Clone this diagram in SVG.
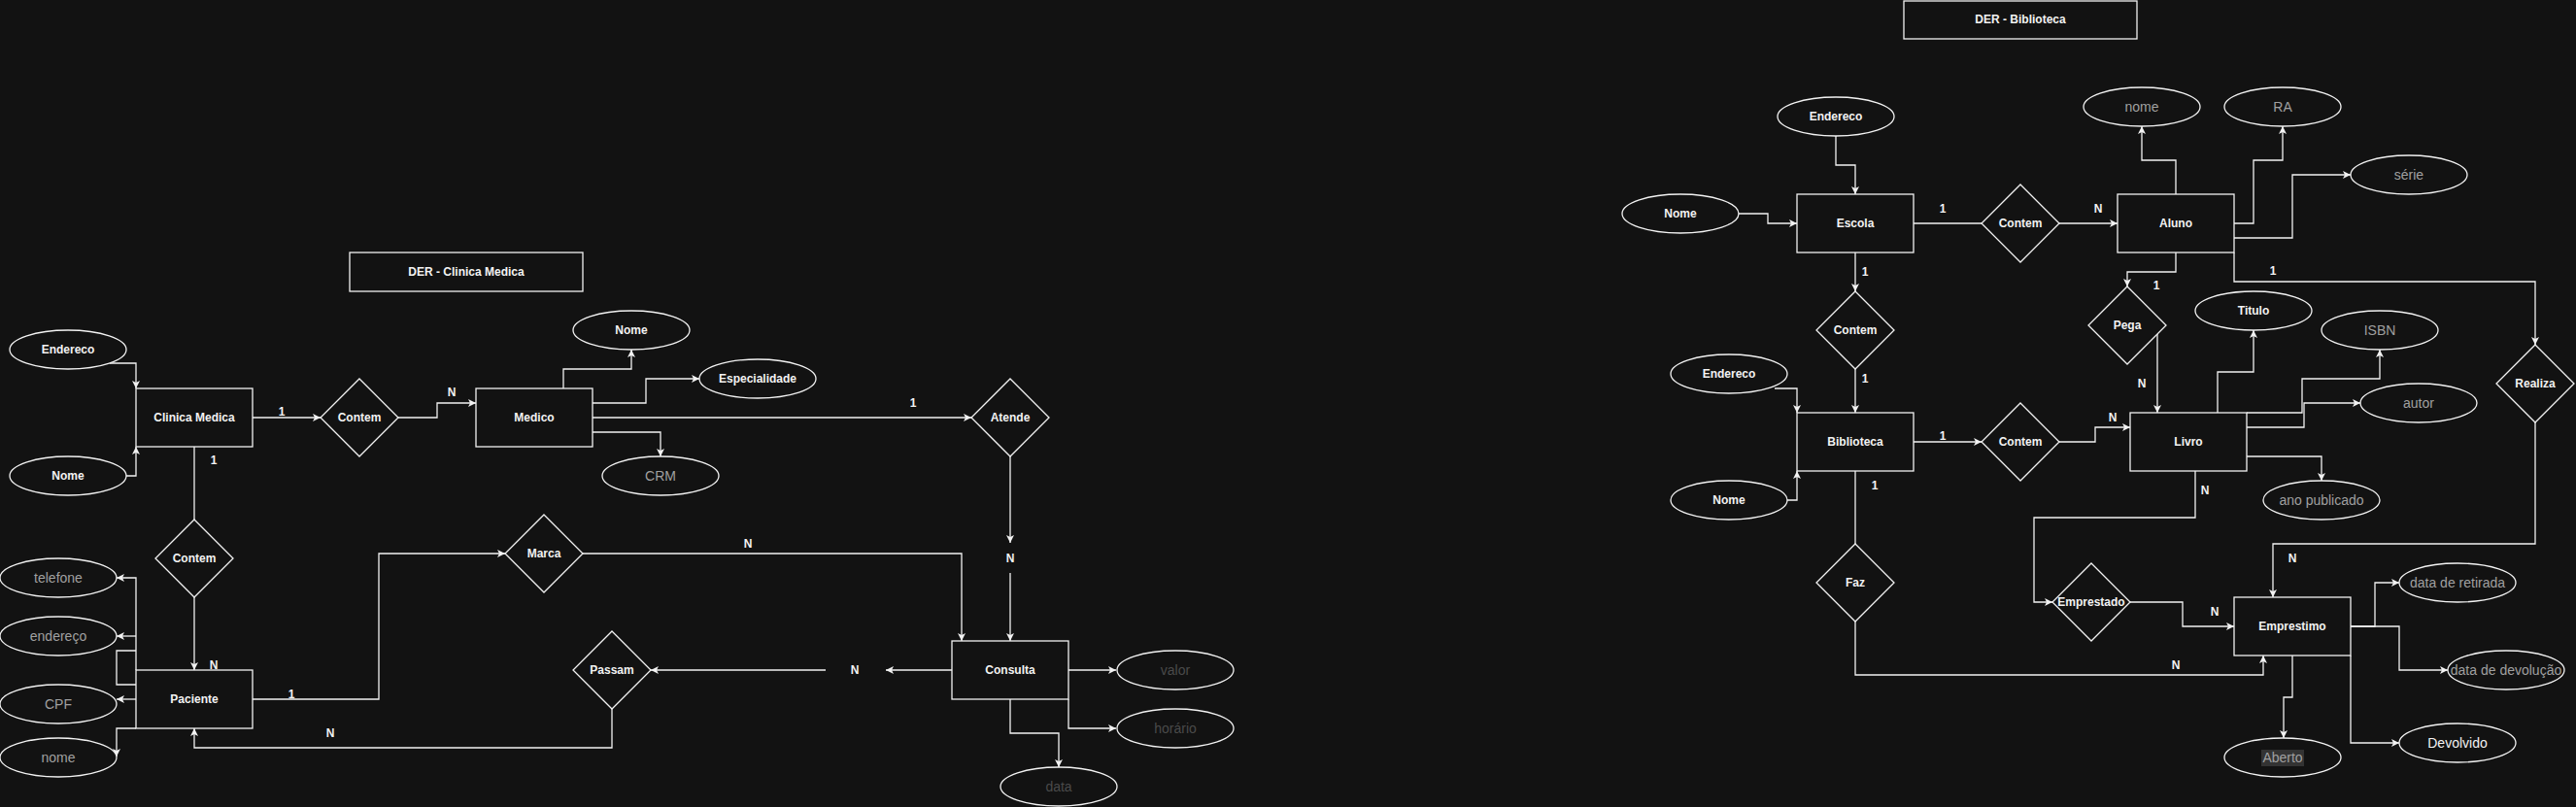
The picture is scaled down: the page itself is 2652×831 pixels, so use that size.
<svg xmlns="http://www.w3.org/2000/svg" width="2652" height="831" viewBox="0 0 2652 831">
<style>
text{font-family:"Liberation Sans",Arial,Helvetica,sans-serif;text-anchor:middle;dominant-baseline:central}
.b{font-size:12px;font-weight:bold;fill:#f2f2f2}
.g{font-size:14px;fill:#a0a0a0}
.d{font-size:14px;fill:#4a4a4a}
.w{font-size:14px;fill:#f2f2f2}
.lbl{font-size:12px;font-weight:bold;fill:#f2f2f2}
.s{fill:#121212;stroke:#f2f2f2;stroke-width:1.3}
.e{fill:none;stroke:#f2f2f2;stroke-width:1.3}
.a{marker-end:url(#arr)}
</style>
<defs>
<marker id="arr" viewBox="0 0 8 8" refX="8" refY="4" markerWidth="8" markerHeight="8" markerUnits="userSpaceOnUse" orient="auto">
<path d="M0,0 L8,4 L0,8 L2,4 Z" fill="#f2f2f2"/>
</marker>
</defs>
<rect width="2652" height="831" fill="#121212"/>

<g id="connectors">
<!-- left -->
<path class="e a" d="M113 374 H140 V400"/>
<path class="e a" d="M130 490 H140 V460"/>
<path class="e a" d="M260 430 H330"/>
<path class="e a" d="M410 430 H450 V415 H490"/>
<path class="e a" d="M580 400 V380 H650 V360"/>
<path class="e a" d="M610 415 H665 V390 H720"/>
<path class="e a" d="M610 445 H680 V470"/>
<path class="e a" d="M610 430 H1000"/>
<path class="e a" d="M1040 470 V559"/>
<path class="e a" d="M1040 590 V660"/>
<path class="e" d="M200 460 V535"/>
<path class="e a" d="M200 615 V690"/>
<path class="e a" d="M260 720 H390 V570 H520"/>
<path class="e a" d="M600 570 H990 V660"/>
<path class="e a" d="M980 690 H912"/>
<path class="e a" d="M850 690 H670"/>
<path class="e a" d="M630 730 V770 H200 V750"/>
<path class="e a" d="M1100 690 H1149"/>
<path class="e a" d="M1100 720 V750 H1149"/>
<path class="e a" d="M1040 720 V755 H1090 V790"/>
<path class="e a" d="M140 690 V595 H120"/>
<path class="e a" d="M140 655 H120"/>
<path class="e" d="M140 670 H120 V705 H140"/>
<path class="e a" d="M140 720 H120"/>
<path class="e a" d="M140 750 H120 V779"/>
<!-- right -->
<path class="e a" d="M1890 140 V170 H1910 V200"/>
<path class="e a" d="M1790 220 H1820 V230 H1850"/>
<path class="e" d="M1970 230 H2040"/>
<path class="e a" d="M2120 230 H2180"/>
<path class="e a" d="M2240 200 V165 H2205 V130"/>
<path class="e a" d="M2300 230 H2320 V165 H2350 V130"/>
<path class="e a" d="M2300 245 H2360 V180 H2420"/>
<path class="e a" d="M2240 260 V280 H2190 V295"/>
<path class="e a" d="M2300 260 V290 H2610 V355"/>
<path class="e a" d="M1910 260 V300"/>
<path class="e a" d="M1910 380 V425"/>
<path class="e a" d="M1827 400 H1850 V425"/>
<path class="e a" d="M1840 515 H1850 V485"/>
<path class="e a" d="M1970 455 H2040"/>
<path class="e a" d="M2120 455 H2157 V440 H2193"/>
<path class="e a" d="M2221 344 V425"/>
<path class="e a" d="M2283 425 V383 H2320 V340"/>
<path class="e a" d="M2313 425 H2370 V390 H2450 V360"/>
<path class="e a" d="M2313 440 H2372 V415 H2430"/>
<path class="e a" d="M2313 470 H2390 V495"/>
<path class="e a" d="M2260 485 V533 H2094 V620 H2113"/>
<path class="e a" d="M2193 620 H2247 V645 H2300"/>
<path class="e a" d="M2610 435 V560 H2340 V615"/>
<path class="e" d="M1910 485 V560"/>
<path class="e a" d="M1910 640 V695 H2330 V675"/>
<path class="e a" d="M2420 645 H2445 V600 H2470"/>
<path class="e a" d="M2420 645 H2470 V690 H2520"/>
<path class="e a" d="M2420 675 V765 H2470"/>
<path class="e a" d="M2360 675 V718 H2351 V760"/>
<!-- edge labels -->
<text class="lbl" x="290" y="424">1</text>
<text class="lbl" x="465" y="404">N</text>
<text class="lbl" x="940" y="415">1</text>
<text class="lbl" x="220" y="474">1</text>
<text class="lbl" x="220" y="685">N</text>
<text class="lbl" x="300" y="715">1</text>
<text class="lbl" x="770" y="560">N</text>
<text class="lbl" x="340" y="755">N</text>
<text class="lbl" x="2000" y="215">1</text>
<text class="lbl" x="2160" y="215">N</text>
<text class="lbl" x="2220" y="294">1</text>
<text class="lbl" x="2340" y="279">1</text>
<text class="lbl" x="1920" y="280">1</text>
<text class="lbl" x="1920" y="390">1</text>
<text class="lbl" x="2000" y="449">1</text>
<text class="lbl" x="2175" y="430">N</text>
<text class="lbl" x="2205" y="395">N</text>
<text class="lbl" x="2270" y="505">N</text>
<text class="lbl" x="2280" y="630">N</text>
<text class="lbl" x="2360" y="575">N</text>
<text class="lbl" x="1930" y="500">1</text>
<text class="lbl" x="2240" y="685">N</text>
</g>

<!-- left diagram nodes -->
<g id="title-clinica"><rect class="s" x="360" y="260" width="240" height="40"/><text class="b" x="480" y="280">DER - Clinica Medica</text></g>
<g id="clinica"><rect class="s" x="140" y="400" width="120" height="60"/><text class="b" x="200" y="430">Clinica Medica</text></g>
<g id="cm-endereco"><ellipse class="s" cx="70" cy="360" rx="60" ry="20"/><text class="b" x="70" y="360">Endereco</text></g>
<g id="cm-nome"><ellipse class="s" cx="70" cy="490" rx="60" ry="20"/><text class="b" x="70" y="490">Nome</text></g>
<g id="contem-1"><polygon class="s" points="370,390 410,430 370,470 330,430"/><text class="b" x="370" y="430">Contem</text></g>
<g id="medico"><rect class="s" x="490" y="400" width="120" height="60"/><text class="b" x="550" y="430">Medico</text></g>
<g id="med-nome"><ellipse class="s" cx="650" cy="340" rx="60" ry="20"/><text class="b" x="650" y="340">Nome</text></g>
<g id="med-esp"><ellipse class="s" cx="780" cy="390" rx="60" ry="20"/><text class="b" x="780" y="390">Especialidade</text></g>
<g id="med-crm"><ellipse class="s" cx="680" cy="490" rx="60" ry="20"/><text class="g" x="680" y="490">CRM</text></g>
<g id="atende"><polygon class="s" points="1040,390 1080,430 1040,470 1000,430"/><text class="b" x="1040" y="430">Atende</text></g>
<g id="n-atende"><text class="lbl" x="1040" y="575">N</text></g>
<g id="contem-2"><polygon class="s" points="200,535 240,575 200,615 160,575"/><text class="b" x="200" y="575">Contem</text></g>
<g id="paciente"><rect class="s" x="140" y="690" width="120" height="60"/><text class="b" x="200" y="720">Paciente</text></g>
<g id="pac-telefone"><ellipse class="s" cx="60" cy="595" rx="60" ry="20"/><text class="g" x="60" y="595">telefone</text></g>
<g id="pac-endereco"><ellipse class="s" cx="60" cy="655" rx="60" ry="20"/><text class="g" x="60" y="655">endereço</text></g>
<g id="pac-cpf"><ellipse class="s" cx="60" cy="725" rx="60" ry="20"/><text class="g" x="60" y="725">CPF</text></g>
<g id="pac-nome"><ellipse class="s" cx="60" cy="780" rx="60" ry="20"/><text class="g" x="60" y="780">nome</text></g>
<g id="marca"><polygon class="s" points="560,530 600,570 560,610 520,570"/><text class="b" x="560" y="570">Marca</text></g>
<g id="passam"><polygon class="s" points="630,650 670,690 630,730 590,690"/><text class="b" x="630" y="690">Passam</text></g>
<g id="n-passam"><text class="lbl" x="880" y="690">N</text></g>
<g id="consulta"><rect class="s" x="980" y="660" width="120" height="60"/><text class="b" x="1040" y="690">Consulta</text></g>
<g id="con-valor"><ellipse class="s" cx="1210" cy="690" rx="60" ry="20"/><text class="d" x="1210" y="690">valor</text></g>
<g id="con-horario"><ellipse class="s" cx="1210" cy="750" rx="60" ry="20"/><text class="d" x="1210" y="750">horário</text></g>
<g id="con-data"><ellipse class="s" cx="1090" cy="810" rx="60" ry="20"/><text class="d" x="1090" y="810">data</text></g>

<!-- right diagram nodes -->
<g id="title-biblioteca"><rect class="s" x="1960" y="1" width="240" height="39"/><text class="b" x="2080" y="20">DER - Biblioteca</text></g>
<g id="esc-endereco"><ellipse class="s" cx="1890" cy="120" rx="60" ry="20"/><text class="b" x="1890" y="120">Endereco</text></g>
<g id="esc-nome"><ellipse class="s" cx="1730" cy="220" rx="60" ry="20"/><text class="b" x="1730" y="220">Nome</text></g>
<g id="escola"><rect class="s" x="1850" y="200" width="120" height="60"/><text class="b" x="1910" y="230">Escola</text></g>
<g id="contem-3"><polygon class="s" points="2080,190 2120,230 2080,270 2040,230"/><text class="b" x="2080" y="230">Contem</text></g>
<g id="aluno"><rect class="s" x="2180" y="200" width="120" height="60"/><text class="b" x="2240" y="230">Aluno</text></g>
<g id="alu-nome"><ellipse class="s" cx="2205" cy="110" rx="60" ry="20"/><text class="g" x="2205" y="110">nome</text></g>
<g id="alu-ra"><ellipse class="s" cx="2350" cy="110" rx="60" ry="20"/><text class="g" x="2350" y="110">RA</text></g>
<g id="alu-serie"><ellipse class="s" cx="2480" cy="180" rx="60" ry="20"/><text class="g" x="2480" y="180">série</text></g>
<g id="contem-4"><polygon class="s" points="1910,300 1950,340 1910,380 1870,340"/><text class="b" x="1910" y="340">Contem</text></g>
<g id="pega"><polygon class="s" points="2190,295 2230,335 2190,375 2150,335"/><text class="b" x="2190" y="335">Pega</text></g>
<g id="realiza"><polygon class="s" points="2610,355 2650,395 2610,435 2570,395"/><text class="b" x="2610" y="395">Realiza</text></g>
<g id="bib-endereco"><ellipse class="s" cx="1780" cy="385" rx="60" ry="20"/><text class="b" x="1780" y="385">Endereco</text></g>
<g id="bib-nome"><ellipse class="s" cx="1780" cy="515" rx="60" ry="20"/><text class="b" x="1780" y="515">Nome</text></g>
<g id="biblioteca"><rect class="s" x="1850" y="425" width="120" height="60"/><text class="b" x="1910" y="455">Biblioteca</text></g>
<g id="contem-5"><polygon class="s" points="2080,415 2120,455 2080,495 2040,455"/><text class="b" x="2080" y="455">Contem</text></g>
<g id="livro"><rect class="s" x="2193" y="425" width="120" height="60"/><text class="b" x="2253" y="455">Livro</text></g>
<g id="liv-titulo"><ellipse class="s" cx="2320" cy="320" rx="60" ry="20"/><text class="b" x="2320" y="320">Titulo</text></g>
<g id="liv-isbn"><ellipse class="s" cx="2450" cy="340" rx="60" ry="20"/><text class="g" x="2450" y="340">ISBN</text></g>
<g id="liv-autor"><ellipse class="s" cx="2490" cy="415" rx="60" ry="20"/><text class="g" x="2490" y="415">autor</text></g>
<g id="liv-ano"><ellipse class="s" cx="2390" cy="515" rx="60" ry="20"/><text class="g" x="2390" y="515">ano publicado</text></g>
<g id="faz"><polygon class="s" points="1910,560 1950,600 1910,640 1870,600"/><text class="b" x="1910" y="600">Faz</text></g>
<g id="emprestado"><polygon class="s" points="2153,580 2193,620 2153,660 2113,620"/><text class="b" x="2153" y="620">Emprestado</text></g>
<g id="emprestimo"><rect class="s" x="2300" y="615" width="120" height="60"/><text class="b" x="2360" y="645">Emprestimo</text></g>
<g id="emp-retirada"><ellipse class="s" cx="2530" cy="600" rx="60" ry="20"/><text class="g" x="2530" y="600">data de retirada</text></g>
<g id="emp-devolucao"><ellipse class="s" cx="2580" cy="690" rx="60" ry="20"/><text class="g" x="2580" y="690">data de devolução</text></g>
<g id="emp-devolvido"><ellipse class="s" cx="2530" cy="765" rx="60" ry="20"/><text class="w" x="2530" y="765">Devolvido</text></g>
<g id="emp-aberto"><ellipse class="s" cx="2350" cy="780" rx="60" ry="20"/><rect x="2328" y="772" width="44" height="17" fill="#333333"/><text class="g" x="2350" y="780">Aberto</text></g>
</svg>
